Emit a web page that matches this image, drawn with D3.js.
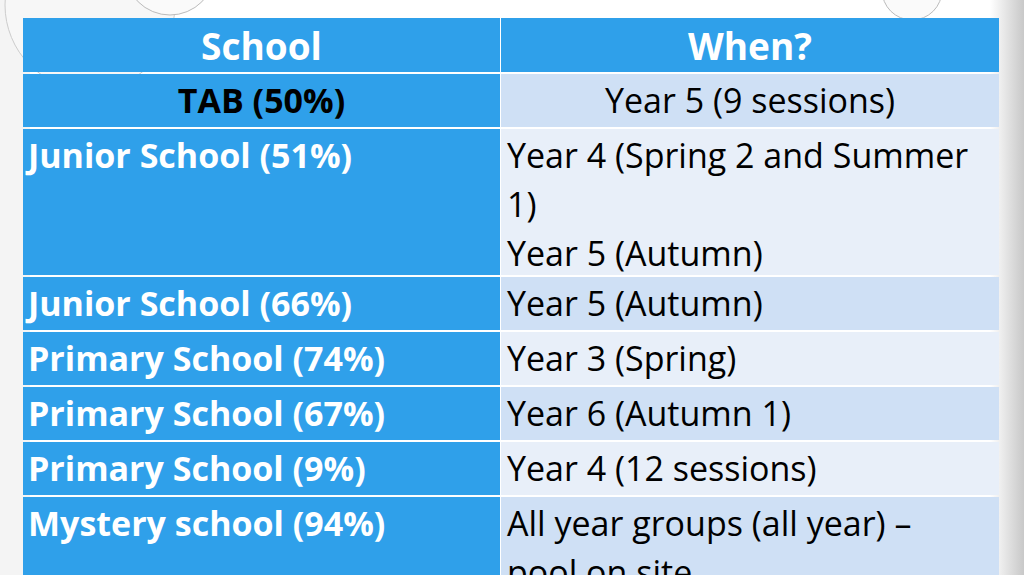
<!DOCTYPE html>
<html><head><meta charset="utf-8">
<script src="https://cdn.jsdelivr.net/npm/d3@7"></script>
<style>body{margin:0;overflow:hidden;background:#fff}text{font-family:"Open Sans",sans-serif}</style>
</head><body><div id="wrapper"></div>
<script>
const headers = ["School", "When?"]
const schools = ["TAB (50%)", "Junior School (51%)", "Junior School (66%)", "Primary School (74%)",
  "Primary School (67%)", "Primary School (9%)", "Mystery school (94%)"]
const whenLines = [
  ["Year 5 (9 sessions)"],
  ["Year 4 (Spring 2 and Summer", "1)", "Year 5 (Autumn)"],
  ["Year 5 (Autumn)"],
  ["Year 3 (Spring)"],
  ["Year 6 (Autumn 1)"],
  ["Year 4 (12 sessions)"],
  ["All year groups (all year) \u2013", "pool on site"]
]

const width = 1024, height = 575
const svg = d3.select("#wrapper").append("svg").attr("width", width).attr("height", height)

// background decoration
const defs = svg.append("defs")
const g = defs.append("linearGradient").attr("id", "edge")
g.append("stop").attr("offset", "0").attr("stop-color", "#fff")
g.append("stop").attr("offset", "1").attr("stop-color", "#c8c8c8")
svg.append("rect").attr("x", 990).attr("width", 34).attr("height", height).attr("fill", "url(#edge)")
svg.append("rect").attr("x", 0).attr("width", 30).attr("height", height).attr("fill", "#f4f4f4")
svg.append("circle").attr("cx", 90).attr("cy", 5).attr("r", 85).attr("fill", "#f7f7f7").attr("stroke", "#ccc")
svg.append("circle").attr("cx", 170).attr("cy", -30).attr("r", 45).attr("fill", "#fafafa").attr("stroke", "#bbb")
svg.append("circle").attr("cx", 912).attr("cy", -10).attr("r", 30).attr("fill", "#fafafa").attr("stroke", "#bbb")

const lineH = 49
const rowHeights = [55].concat(whenLines.map(l => l.length === 7 ? 0 : 55 + (l.length - 1) * 46.5))
const rowY = d3.cumsum([18].concat(rowHeights))
const x = d3.scaleOrdinal().domain(headers).range([23, 501])
const colW = [477, 498]

// header
headers.forEach((h, i) => {
  svg.append("rect").attr("x", x(h)).attr("y", rowY[0]).attr("width", colW[i]).attr("height", rowHeights[0] - 1)
    .attr("fill", "#2fa0ea")
  svg.append("text").attr("x", x(h) + colW[i] / 2).attr("y", rowY[0] + 29).attr("dy", "0.36em")
    .attr("text-anchor", "middle").attr("fill", "#fff").attr("font-weight", "bold").attr("font-size", 37).text(h)
})

schools.forEach((s, i) => {
  const y0 = rowY[i + 1], h = rowHeights[i + 1]
  svg.append("rect").attr("x", x(headers[0])).attr("y", y0 + 1).attr("width", colW[0]).attr("height", h - 2)
    .attr("fill", "#2fa0ea")
  svg.append("rect").attr("x", x(headers[1])).attr("y", y0 + 1).attr("width", colW[1]).attr("height", h - 2)
    .attr("fill", i % 2 === 0 ? "#cfe0f5" : "#e8eff9")
  const first = i === 0
  svg.append("text").attr("x", first ? x(headers[0]) + colW[0] / 2 : 28).attr("y", y0 + 28).attr("dy", "0.36em")
    .attr("text-anchor", first ? "middle" : "start").attr("fill", first ? "#000" : "#fff")
    .attr("font-weight", "bold").attr("font-size", 34).text(s)
  whenLines[i].forEach((t, j) => {
    svg.append("text").attr("x", first ? x(headers[1]) + colW[1] / 2 : 507).attr("y", y0 + 28 + j * lineH)
      .attr("dy", "0.36em").attr("text-anchor", first ? "middle" : "start").attr("fill", "#000")
      .attr("font-size", 34).text(t)
  })
})
</script></body></html>
